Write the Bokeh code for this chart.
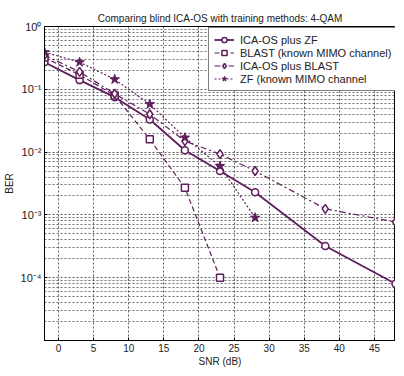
from bokeh.plotting import figure
from bokeh.models import (Legend, LegendItem, FixedTicker, CustomJSTickFormatter, Range1d)
from bokeh.embed import file_html
from bokeh.resources import INLINE

snr_zf = [-2, 3, 8, 13, 18, 23, 28, 38, 48]
ber_ica_zf = [0.27, 0.14, 0.075, 0.033, 0.0107, 0.005, 0.0023, 0.00032, 0.00008]

snr_blast = [-2, 3, 8, 13, 18, 23]
ber_blast = [0.32, 0.17, 0.08, 0.016, 0.0027, 0.0001]

snr_icab = [-2, 3, 8, 13, 18, 23, 28, 38, 48]
ber_ica_blast = [0.35, 0.19, 0.085, 0.04, 0.015, 0.0093, 0.005, 0.00125, 0.00077]

snr_zfk = [-2, 3, 8, 13, 18, 23, 28]
ber_zf_known = [0.39, 0.27, 0.144, 0.058, 0.017, 0.006, 0.0009]

labels = ["ICA-OS plus ZF", "BLAST (known MIMO channel)", "ICA-OS plus BLAST", "ZF (known MIMO channel"]
x_ticks = [0, 5, 10, 15, 20, 25, 30, 35, 40, 45]
y_ticks = [1, 0.1, 0.01, 0.001, 0.0001]

C = "#5e1f5c"
FONT = "Liberation Sans"

p = figure(frame_width=351, frame_height=314, y_axis_type="log", output_backend="svg",
           toolbar_location=None, x_range=Range1d(-2, 48), y_range=Range1d(1e-5, 1),
           min_border_left=39, min_border_right=0, min_border_top=26, min_border_bottom=20)
p.title.text = "Comparing blind ICA-OS with training methods: 4-QAM"
p.title.align = "center"
p.title.text_font = FONT
p.title.text_font_size = "10px"
p.title.text_font_style = "normal"
p.title.text_color = "#222222"
p.title.standoff = 6

p.outline_line_color = "black"
p.outline_line_width = 1

p.xaxis.ticker = FixedTicker(ticks=x_ticks)
p.yaxis.ticker = FixedTicker(ticks=y_ticks, minor_ticks=[m * 10.0**e for e in range(-5, 0) for m in range(2, 10)])
p.yaxis.formatter = CustomJSTickFormatter(code="""
const e = Math.round(Math.log10(tick));
const sup = {'-':'\u207b','0':'\u2070','1':'\u00b9','2':'\u00b2','3':'\u00b3','4':'\u2074','5':'\u2075'};
return '10' + String(e).split('').map(c => sup[c]).join('');
""")
for ax in (p.xaxis, p.yaxis):
    ax.major_label_text_font = FONT
    ax.major_label_text_font_size = "10px"
    ax.major_label_text_color = "#222222"
    ax.axis_label_text_font = FONT
    ax.axis_label_text_font_size = "10px"
    ax.axis_label_text_font_style = "normal"
    ax.axis_label_text_color = "#222222"
    ax.major_tick_in = 3
    ax.major_tick_out = 0
    ax.minor_tick_in = 0
    ax.minor_tick_out = 0
    ax.axis_line_color = "black"
p.yaxis.major_label_text_font_size = "11px"
p.xaxis.major_label_standoff = 3
p.yaxis.major_label_standoff = 3
p.xaxis.axis_label = "SNR (dB)"
p.yaxis.axis_label = "BER"
p.xaxis.axis_label_standoff = 1
p.yaxis.axis_label_standoff = 3

p.xgrid.grid_line_color = "#333333"
p.xgrid.grid_line_dash = "2 2"
p.xgrid.grid_line_alpha = 0.8
p.ygrid.grid_line_color = "#333333"
p.ygrid.grid_line_dash = "2 2"
p.ygrid.grid_line_alpha = 0.8
p.ygrid.minor_grid_line_color = "#333333"
p.ygrid.minor_grid_line_dash = "2 2"
p.ygrid.minor_grid_line_alpha = 0.7

l1 = p.line(snr_zf, ber_ica_zf, line_color=C, line_width=1.8)
s1 = p.scatter(snr_zf, ber_ica_zf, marker="circle", size=7, line_color=C, fill_color="white", line_width=1.5)
l2 = p.line(snr_blast, ber_blast, line_color=C, line_width=1.2, line_dash="5 3")
s2 = p.scatter(snr_blast, ber_blast, marker="square", size=7, line_color=C, fill_color="white", line_width=1.5)
l3 = p.line(snr_icab, ber_ica_blast, line_color=C, line_width=1.2, line_dash="6 3 2 3")
s3 = p.scatter(snr_icab, ber_ica_blast, marker="diamond", size=9, line_color=C, fill_color="white", line_width=1.5)
l4 = p.line(snr_zfk, ber_zf_known, line_color=C, line_width=1.2, line_dash="2 2")
s4 = p.scatter(snr_zfk, ber_zf_known, marker="star", size=10, line_color=C, fill_color=C, line_width=1)

legend = Legend(items=[LegendItem(label=labels[0], renderers=[l1, s1]),
                       LegendItem(label=labels[1], renderers=[l2, s2]),
                       LegendItem(label=labels[2], renderers=[l3, s3]),
                       LegendItem(label=labels[3], renderers=[l4, s4])],
                location=(164, 249))
legend.label_text_font = FONT
legend.label_text_font_size = "11px"
legend.label_text_color = "#222222"
legend.border_line_color = "black"
legend.border_line_width = 1
legend.background_fill_color = "white"
legend.background_fill_alpha = 1
legend.spacing = 0
legend.padding = 5
legend.margin = 0
legend.label_height = 13
legend.glyph_height = 13
legend.glyph_width = 20
legend.label_standoff = 6
p.add_layout(legend, "center")

open("out.html", "w").write(file_html(p, INLINE))
